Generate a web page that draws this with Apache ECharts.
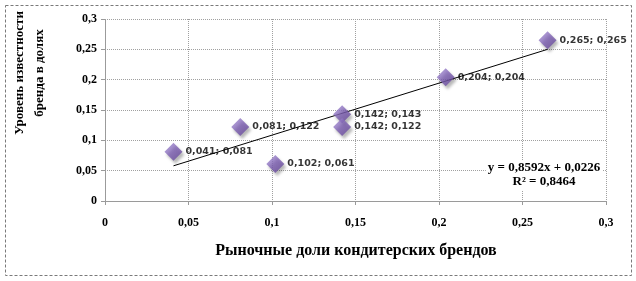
<!DOCTYPE html>
<html><head><meta charset="utf-8">
<script src="https://cdn.jsdelivr.net/npm/echarts@6/dist/echarts.min.js"></script>
<style>html,body{margin:0;padding:0;background:#fff}#c{width:636px;height:281px}</style>
</head><body><div id="c"></div>
<script>
var marketShare = [0.041, 0.081, 0.102, 0.142, 0.142, 0.204, 0.265];
var awareness   = [0.081, 0.122, 0.061, 0.143, 0.122, 0.204, 0.265];
var trendX = [0.041, 0.265];
var trendY = [0.058, 0.250];
var xTicks = ['0', '0,05', '0,1', '0,15', '0,2', '0,25', '0,3'];
var yTicks = ['0', '0,05', '0,1', '0,15', '0,2', '0,25', '0,3'];
var xTitle = 'Рыночные доли кондитерских брендов';
var yTitle = 'Уровень известности\nбренда в долях';
var eqLine1 = 'y = 0,8592x + 0,0226';
var eqLine2 = 'R² = 0,8464';

function fmt(v){ return String(v).replace('.', ','); }
var points = marketShare.map(function(x,i){ return [x, awareness[i]]; });
var trend = trendX.map(function(x,i){ return [x, trendY[i]]; });
var serif = '"Liberation Serif","Times New Roman",serif';

var chart = echarts.init(document.getElementById('c'));
chart.setOption({
  animation:false,
  grid:{left:105, right:30, top:19, bottom:80},
  xAxis:{type:'value', min:0, max:0.3, interval:0.05,
    axisLine:{show:true, lineStyle:{color:'#9a9a9a'}},
    axisTick:{show:true, length:4, lineStyle:{color:'#9a9a9a'}},
    axisLabel:{margin:16, color:'#000', fontFamily:serif, fontWeight:'bold', fontSize:12,
      formatter:function(v){ return xTicks[Math.round(v/0.05)]; }},
    splitLine:{show:true, lineStyle:{color:'#a0a0a0', type:'dotted'}}},
  yAxis:{type:'value', min:0, max:0.3, interval:0.05,
    axisLine:{show:true, lineStyle:{color:'#9a9a9a', type:'dotted'}},
    axisTick:{show:true, length:4, lineStyle:{color:'#9a9a9a'}},
    axisLabel:{margin:8, color:'#000', fontFamily:serif, fontWeight:'bold', fontSize:12,
      formatter:function(v){ return yTicks[Math.round(v/0.05)]; }},
    splitLine:{show:true, lineStyle:{color:'#a0a0a0', type:'dotted'}}},
  graphic:[
    {type:'rect', shape:{x:5.5, y:5.5, width:626, height:270}, z:-1,
      style:{fill:'none', stroke:'#7a7a7a', lineWidth:1, lineDash:[3,2]}},
    {type:'text', x:30, y:73, rotation:Math.PI/2,
      style:{text:yTitle, fontFamily:serif, fontWeight:'bold', fontSize:13, fill:'#000',
        align:'center', verticalAlign:'middle', lineHeight:20}},
    {type:'text', x:356, y:251,
      style:{text:xTitle, fontFamily:serif, fontWeight:'bold', fontSize:16, fill:'#000',
        align:'center', verticalAlign:'middle'}},
    {type:'text', x:544, y:175, z:10,
      style:{text:eqLine1+'\n'+eqLine2, fontFamily:serif, fontWeight:'bold', fontSize:13, fill:'#000',
        align:'center', verticalAlign:'middle', lineHeight:14, backgroundColor:'#fff', padding:[1,2]}}
  ],
  series:[
    {type:'line', data:trend, symbol:'none', z:3,
      lineStyle:{color:'#000', width:1}},
    {type:'scatter', data:points, symbol:'diamond', symbolSize:18, z:4,
      itemStyle:{
        color:new echarts.graphic.LinearGradient(0,0,1,1,[
          {offset:0, color:'#a994d6'},{offset:0.5, color:'#7d5fb3'},{offset:1, color:'#5e3f92'}]),
        shadowColor:'rgba(0,0,0,0.35)', shadowBlur:3, shadowOffsetX:2, shadowOffsetY:3},
      label:{show:true, position:'right', distance:3, color:'#000',
        fontFamily:'"DejaVu Sans",sans-serif', fontWeight:'bold', fontSize:9.5,
        formatter:function(p){ return fmt(p.value[0])+'; '+fmt(p.value[1]); }}}
  ]
});
</script></body></html>
